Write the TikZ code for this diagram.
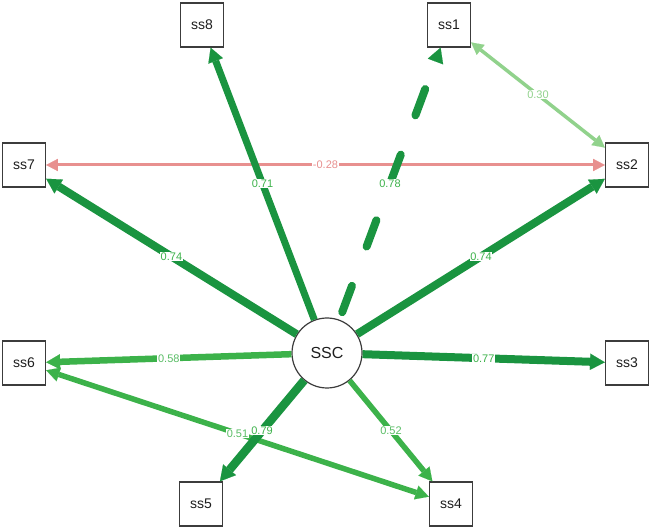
\documentclass[tikz,border=0pt]{standalone}
\usepackage{fontspec}
\setmainfont{Liberation Sans}
\usetikzlibrary{arrows.meta}
\definecolor{dkg}{RGB}{26,148,64}
\definecolor{mdg}{RGB}{60,178,74}
\definecolor{ltg}{RGB}{145,210,140}
\definecolor{pnk}{RGB}{232,144,143}
\definecolor{boxc}{RGB}{60,60,60}
\definecolor{txt}{RGB}{30,30,30}
\begin{document}
\begin{tikzpicture}[x=1pt,y=-1pt,
  >={Triangle[length=10pt 0.6,width=10pt 0.8,line width=0.1pt]},
  var/.style={draw=boxc,line width=1.3pt,minimum width=43pt,minimum height=44pt,inner sep=0pt,fill=white,font=\fontsize{14}{14}\selectfont,text=txt},
  lat/.style={circle,draw=boxc,line width=1.2pt,minimum size=70pt,inner sep=0pt,fill=white,font=\fontsize{16}{16}\selectfont,text=txt},
  lab/.style={midway,fill=white,inner sep=0.6pt,font=\fontsize{11}{11}\selectfont},
  edk/.style={->,draw=dkg},
  emd/.style={->,draw=mdg}]
\useasboundingbox (0,0) rectangle (651,529);
% nodes
\node[var] (ss8) at (202,25) {ss8};
\node[var] (ss1) at (449,25) {ss1};
\node[var] (ss7) at (24,165) {ss7};
\node[var] (ss2) at (627,165) {ss2};
\node[var] (ss6) at (24,363) {ss6};
\node[var] (ss3) at (627,363) {ss3};
\node[var] (ss5) at (201,504) {ss5};
\node[var] (ss4) at (451,504) {ss4};
\node[lat] (SSC) at (327,353) {SSC};
% edges
\draw[<->,draw=pnk,line width=3pt] (ss2) -- (ss7);
\draw[<->,draw=ltg,line width=3.5pt] (ss1) -- (ss2);
\draw[<->,draw=mdg,line width=5.5pt] (ss6) -- (ss4);
\draw[edk,line width=7pt] (SSC) -- (ss8);
\draw[edk,line width=8pt,line cap=round,dash pattern=on 28pt off 42pt,dash phase=62pt] (SSC) -- (ss1);
\draw[edk,line width=8pt] (SSC) -- (ss7);
\draw[edk,line width=8pt] (SSC) -- (ss2);
\draw[emd,line width=6.5pt] (SSC) -- (ss6);
\draw[edk,line width=8pt] (SSC) -- (ss3);
\draw[edk,line width=8.5pt] (SSC) -- (ss5);
\draw[emd,line width=5.5pt] (SSC) -- (ss4);
% labels
\path (ss2) -- (ss7) node[lab,text=pnk] (l1) {-0.28};
\path (ss1) -- (ss2) node[lab,text=ltg] (l2) {0.30};
\path (ss6) -- (ss4) node[lab,text=mdg!85!white] (l3) {0.51};
\path (SSC) -- (ss8) node[lab,text=mdg] (l4) {0.71};
\path (SSC) -- (ss1) node[lab,text=mdg] (l5) {0.78};
\path (SSC) -- (ss7) node[lab,text=mdg] (l6) {0.74};
\path (SSC) -- (ss2) node[lab,text=mdg] (l7) {0.74};
\path (SSC) -- (ss6) node[lab,text=mdg!85!white] (l8) {0.58};
\path (SSC) -- (ss3) node[lab,text=mdg] (l9) {0.77};
\path (SSC) -- (ss5) node[lab,text=mdg] (l10) {0.79};
\path (SSC) -- (ss4) node[lab,text=mdg!85!white] (l11) {0.52};
\end{tikzpicture}
\end{document}
